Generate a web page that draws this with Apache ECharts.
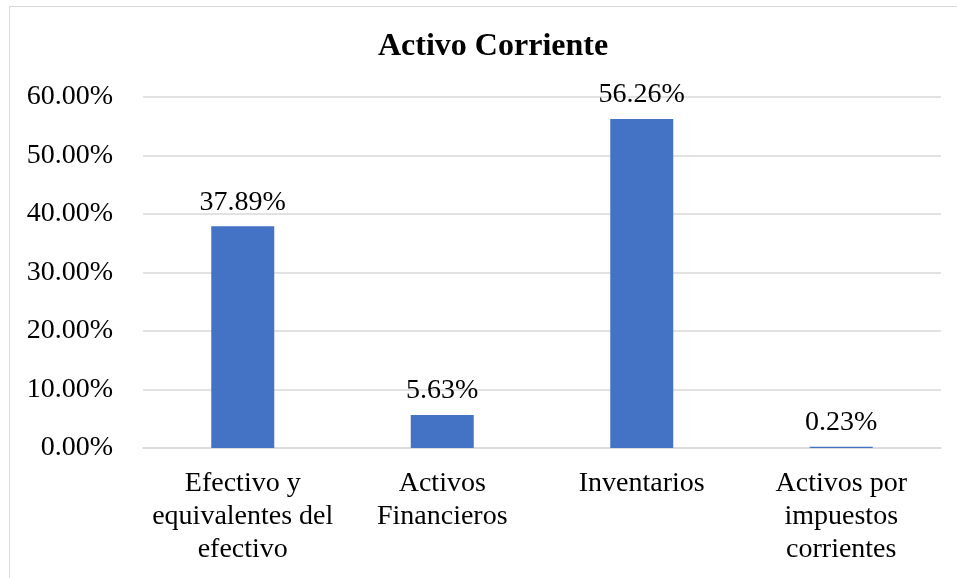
<!DOCTYPE html>
<html>
<head>
<meta charset="utf-8">
<script src="https://cdn.jsdelivr.net/npm/echarts@6/dist/echarts.min.js"></script>
<style>html,body{margin:0;padding:0;background:#fff;}#c{width:957px;height:578px;}</style>
</head>
<body>
<div id="c"></div>
<script>
var categories = ["Efectivo y equivalentes del efectivo", "Activos Financieros", "Inventarios", "Activos por impuestos corrientes"];
var tickLabels = ["Efectivo y\nequivalentes del\nefectivo", "Activos\nFinancieros", "Inventarios", "Activos por\nimpuestos\ncorrientes"];
var values = [37.89, 5.63, 56.26, 0.23];
var titleText = "Activo Corriente";

var chart = echarts.init(document.getElementById('c'), null, {renderer: 'canvas'});
var FONT = '"Liberation Serif", "Times New Roman", serif';
chart.setOption({
  animation: false,
  backgroundColor: '#fff',
  title: {
    text: titleText,
    left: 373,
    top: 26,
    textStyle: {fontFamily: FONT, fontSize: 32, fontWeight: 'bold', color: '#000'}
  },
  graphic: [{
    type: 'rect',
    shape: {x: 9.5, y: 6.5, width: 980, height: 620},
    style: {fill: 'none', stroke: '#d9d9d9', lineWidth: 1}
  }],
  grid: {left: 143, right: 16, top: 97, bottom: 130},
  xAxis: {
    type: 'category',
    data: categories,
    axisTick: {show: false},
    axisLine: {lineStyle: {color: '#d9d9d9', width: 1.5}},
    axisLabel: {
      interval: 0,
      margin: 19,
      fontFamily: FONT, fontSize: 28, lineHeight: 33, color: '#000',
      formatter: function (v, i) { return tickLabels[i]; }
    }
  },
  yAxis: {
    type: 'value',
    min: 0, max: 60, interval: 10,
    axisLine: {show: false},
    axisTick: {show: false},
    splitLine: {lineStyle: {color: '#d9d9d9', width: 1.5}},
    axisLabel: {
      margin: 30,
      fontFamily: FONT, fontSize: 28, color: '#000',
      formatter: function (v) { return v.toFixed(2) + '%'; }
    }
  },
  series: [{
    type: 'bar',
    data: values,
    barWidth: 63,
    itemStyle: {color: '#4472C4'},
    label: {
      show: true,
      position: 'top',
      distance: 10,
      fontFamily: FONT, fontSize: 28, color: '#000',
      formatter: function (p) { return p.value.toFixed(2) + '%'; }
    }
  }]
});
</script>
</body>
</html>
